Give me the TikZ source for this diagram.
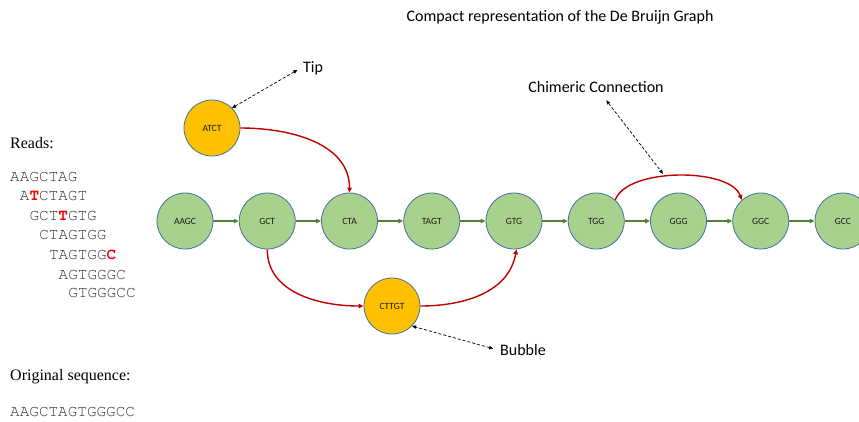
\documentclass[tikz,border=0pt]{standalone}
\usepackage{fontspec}
\setmainfont{Liberation Serif}
\setsansfont{Carlito}
\setmonofont{Liberation Mono}
\usepackage{tikz}
\usetikzlibrary{matrix, arrows.meta}
\usepackage{xcolor}
\definecolor{kmergreen}{HTML}{A9D18E}
\definecolor{kmerborder}{HTML}{41719C}
\definecolor{errorange}{HTML}{FFC000}
\definecolor{linkgreen}{HTML}{548235}
\definecolor{errred}{HTML}{C00000}
\newcommand{\mismatch}[1]{\textcolor{red}{\textbf{#1}}}
\newcommand{\courierseq}{\fontencoding{T1}\fontfamily{pcr}\fontsize{16}{19}\selectfont}

\tikzset{
    kmer/.style={circle, draw=kmerborder, line width=0.8pt, fill=kmergreen, minimum size=56pt, inner sep=0pt, text=black!90, font=\sffamily\fontsize{9.5}{11}\selectfont},
    errkmer/.style={kmer, fill=errorange},
    link/.style={-{Triangle[length=5pt,width=4.5pt]}, line width=1.4pt, linkgreen},
    errlink/.style={-{Triangle[length=5pt,width=4.5pt]}, line width=1.4pt, errred},
    note/.style={font=\sffamily\fontsize{16}{19}\selectfont, inner sep=2pt},
    pointer/.style={{Triangle[length=4pt,width=3.5pt]}-{Triangle[length=4pt,width=3.5pt]}, dash pattern=on 3pt off 2pt, line width=0.7pt},
    seq/.style={anchor=west, inner sep=0pt, text=black!80, font=\courierseq},
    caption/.style={anchor=west, inner sep=0pt, font=\rmfamily\fontsize{16}{19}\selectfont}
}

\begin{document}
\begin{tikzpicture}[x=1pt, y=1pt]
    \useasboundingbox (0,0) rectangle (859,-421);
    % Title
    \node[note] (title) at (560,-17) {Compact representation of the De Bruijn Graph};

    % Reads and original sequence
    \node[caption] (readslbl) at (10,-143) {Reads:};
    \node[seq] (r1) at (10,-177) {AAGCTAG};
    \node[seq] (r2) at (19.7,-196) {A\mismatch{T}CTAGT};
    \node[seq] (r3) at (29.4,-216) {GCT\mismatch{T}GTG};
    \node[seq] (r4) at (39.1,-235) {CTAGTGG};
    \node[seq] (r5) at (48.8,-255) {TAGTGG\mismatch{C}};
    \node[seq] (r6) at (58.5,-275) {AGTGGGC};
    \node[seq] (r7) at (68.2,-293) {GTGGGCC};
    \node[caption] (origlbl) at (10,-377) {Original sequence:};
    \node[seq] (orig) at (10,-412) {AAGCTAGTGGGCC};

    % Chain of k-mers
    \matrix (g) [matrix of nodes, ampersand replacement=\&, column sep={82.25pt,between origins}, nodes={kmer}] at (514,-221) {
    AAGC \& GCT \& CTA \& TAGT \& GTG \& TGG \& GGG \& GGC \& GCC \\
    };
    \draw[link] (g-1-1) -- (g-1-2);
    \draw[link] (g-1-2) -- (g-1-3);
    \draw[link] (g-1-3) -- (g-1-4);
    \draw[link] (g-1-4) -- (g-1-5);
    \draw[link] (g-1-5) -- (g-1-6);
    \draw[link] (g-1-6) -- (g-1-7);
    \draw[link] (g-1-7) -- (g-1-8);
    \draw[link] (g-1-8) -- (g-1-9);

    % Erroneous k-mers and links
    \node[errkmer] (atct) at (212,-128) {ATCT};
    \node[errkmer] (cttgt) at (392,-306) {CTTGT};
    \draw[errlink] (atct.east) to[out=0, in=90] (g-1-3.north);
    \draw[errlink] (g-1-2.south) to[out=-90, in=180] (cttgt.west);
    \draw[errlink] (cttgt.east) to[out=0, in=-100] (g-1-5.-85);
    \draw[errlink] (g-1-6.48) to[out=70, in=110, looseness=0.7] node[coordinate, pos=0.42] (chim) {} (g-1-8.132);

    % Annotations
    \node[note] (tip) at (313,-68) {Tip};
    \node[note] (chimera) at (596,-87) {Chimeric Connection};
    \node[note] (bubble) at (523,-350) {Bubble};
    \draw[pointer, shorten <=4pt] (tip.west) -- (atct.45);
    \draw[pointer, shorten <=7pt, shorten >=3pt] (chimera) -- (chim);
    \draw[pointer, shorten <=5pt] (bubble.west) -- (cttgt.-45);
\end{tikzpicture}
\end{document}
